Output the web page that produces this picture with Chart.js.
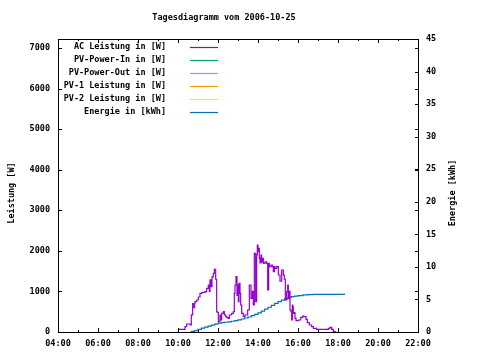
<!DOCTYPE html>
<html><head><meta charset="utf-8">
<script src="https://cdn.jsdelivr.net/npm/chart.js@4/dist/chart.umd.min.js"></script>
<style>html,body{margin:0;padding:0;background:#fff}canvas{display:block}</style>
</head><body>
<canvas id="c" width="480" height="360"></canvas>
<script>
const TITLE = 'Tagesdiagramm vom 2006-10-25';
const Y1_TITLE = 'Leistung [W]';
const Y2_TITLE = 'Energie [kWh]';
const SERIES_LABELS = ['AC Leistung in [W]', 'PV-Power-In in [W]', 'PV-Power-Out in [W]', 'PV-1 Leistung in [W]', 'PV-2 Leistung in [W]', 'Energie in [kWh]'];
const SERIES_COLORS = ['#9400d3', '#009e73', '#56b4e9', '#e69f00', '#f0e442', '#0072b2'];
const X_TICK_HOURS = [4,5,6,7,8,9,10,11,12,13,14,15,16,17,18,19,20,21,22];
const Y1_TICKS = [0,1000,2000,3000,4000,5000,6000,7000];
const Y2_TICKS = [0,5,10,15,20,25,30,35,40,45];
const Y1_MAX = 7220;
const Y2_MAX = 45;

const AC_TIMES = ['10:00','10:21','10:26','10:30','10:36','10:40','10:44','10:46','10:50','10:51','10:56','11:01','11:06','11:11','11:16','11:21','11:26','11:31','11:34','11:36','11:39','11:42','11:46','11:49','11:53','11:56','11:58','12:01','12:06','12:09','12:11','12:16','12:19','12:23','12:26','12:31','12:34','12:41','12:46','12:49','12:51','12:54','12:57','12:59','13:01','13:03','13:06','13:08','13:11','13:16','13:21','13:29','13:34','13:39','13:43','13:46','13:49','13:53','13:56','13:58','14:00','14:02','14:04','14:06','14:09','14:11','14:14','14:16','14:21','14:26','14:29','14:32','14:34','14:39','14:43','14:46','14:49','14:51','14:56','15:01','15:06','15:11','15:16','15:19','15:22','15:26','15:29','15:31','15:33','15:36','15:39','15:41','15:43','15:44','15:46','15:48','15:51','15:54','16:01','16:08','16:14','16:18','16:24','16:28','16:34','16:41','16:46','16:56','17:06','17:31','17:36','17:41','17:46','17:51','17:56'];
const AC_WATTS = [65,65,130,197,197,172,420,700,600,707,747,789,862,954,970,978,993,1077,1158,1000,1282,1120,1360,1447,1545,1300,500,480,254,419,296,461,500,420,378,352,337,419,461,500,954,1158,1363,900,1158,747,1200,950,665,461,378,419,542,1158,830,1000,665,1940,747,1900,2144,1980,2063,1816,1700,1898,1730,1816,1693,1730,1693,1035,1693,1610,1650,1610,1486,1610,1570,1610,1405,1250,1528,1405,1300,789,993,1158,830,1000,542,500,296,665,624,461,480,337,279,296,362,394,378,313,230,172,131,90,66,66,90,115,66,8,0];

const ENERGY_TIMES = ['10:40','10:50','11:00','11:10','11:20','11:30','11:40','11:50','12:00','12:10','12:20','12:30','12:40','12:50','13:00','13:10','13:20','13:30','13:40','13:50','14:00','14:10','14:20','14:30','14:40','14:50','15:00','15:10','15:20','15:30','15:40','15:50','16:00','16:15','16:30','16:45','17:00','18:21'];
const ENERGY_KWH = [0,0.1,0.2,0.4,0.6,0.75,0.9,1.05,1.2,1.35,1.45,1.5,1.55,1.65,1.75,1.85,2.0,2.15,2.3,2.5,2.7,2.95,3.2,3.5,3.8,4.1,4.4,4.65,4.9,5.1,5.3,5.42,5.5,5.6,5.7,5.75,5.79,5.79];

const PV_IN_W = [], PV_OUT_W = [], PV1_W = [], PV2_W = [];

const FONT_FAMILY = '"DejaVu Sans Mono", monospace';
const FONT_SIZE = 8.5;
const FONT_WEIGHT = 'bold';

function toHours(s) { const [h, m] = s.split(':').map(Number); return h + m / 60; }
function pts(times, vals) { return times.map((t, i) => ({ x: toHours(t), y: vals[i] })); }
function pad2(n) { return (n < 10 ? '0' : '') + n; }

const frame = {
  id: 'frame',
  afterDraw(chart) {
    const ctx = chart.ctx, a = chart.chartArea;
    const xs = chart.scales.x, y1 = chart.scales.y, y2 = chart.scales.y2;
    ctx.save();
    ctx.strokeStyle = '#000';
    ctx.lineWidth = 1;
    ctx.beginPath();
    ctx.rect(a.left + 0.5, a.top + 0.5, a.right - a.left, a.bottom - a.top);
    ctx.stroke();
    ctx.beginPath();
    xs.ticks.forEach(t => {
      const px = Math.round(xs.getPixelForValue(t.value)) + 0.5;
      const len = t.value % 2 === 0 ? 4 : 2;
      ctx.moveTo(px, a.bottom); ctx.lineTo(px, a.bottom - len);
      ctx.moveTo(px, a.top); ctx.lineTo(px, a.top + len);
    });
    y1.ticks.forEach(t => {
      const py = Math.round(y1.getPixelForValue(t.value)) + 0.5;
      ctx.moveTo(a.left, py); ctx.lineTo(a.left + 4, py);
      ctx.moveTo(a.right + 1, py); ctx.lineTo(a.right - 3, py);
    });
    y2.ticks.forEach(t => {
      const py = Math.round(y2.getPixelForValue(t.value)) + 0.5;
      ctx.moveTo(a.right + 1, py); ctx.lineTo(a.right - 3, py);
    });
    ctx.stroke();

    ctx.fillStyle = '#000';
    ctx.font = FONT_WEIGHT + ' ' + FONT_SIZE + 'px ' + FONT_FAMILY;
    ctx.textBaseline = 'middle';
    ctx.textAlign = 'center';
    ctx.fillText(TITLE, 224, 18);

    ctx.save(); ctx.translate(12, 193); ctx.rotate(-Math.PI / 2);
    ctx.fillText(Y1_TITLE, 0, 0); ctx.restore();
    ctx.save(); ctx.translate(453, 193); ctx.rotate(-Math.PI / 2);
    ctx.fillText(Y2_TITLE, 0, 0); ctx.restore();

    ctx.textAlign = 'right';
    chart.data.datasets.forEach((ds, i) => {
      const ly = 47 + i * 13;
      ctx.fillStyle = '#000';
      ctx.fillText(ds.label, 166, ly);
      ctx.strokeStyle = ds.borderColor;
      ctx.lineWidth = 1.2;
      ctx.beginPath(); ctx.moveTo(190, ly + 0.5); ctx.lineTo(218, ly + 0.5); ctx.stroke();
    });
    ctx.restore();
  }
};

const datasetValues = [pts(AC_TIMES, AC_WATTS), PV_IN_W, PV_OUT_W, PV1_W, PV2_W, pts(ENERGY_TIMES, ENERGY_KWH)];
const datasets = SERIES_LABELS.map((label, i) => ({
  label,
  data: datasetValues[i],
  borderColor: SERIES_COLORS[i],
  backgroundColor: SERIES_COLORS[i],
  borderWidth: 1.2,
  pointRadius: 0,
  stepped: 'after',
  fill: false,
  yAxisID: i === 5 ? 'y2' : 'y'
}));

const tickFont = { family: FONT_FAMILY, size: FONT_SIZE, weight: FONT_WEIGHT };
new Chart(document.getElementById('c'), {
  type: 'line',
  data: { datasets },
  plugins: [frame],
  options: {
    responsive: false,
    animation: false,
    devicePixelRatio: 1,
    layout: { padding: { top: 39, left: 0, right: 0, bottom: 0 } },
    plugins: { legend: { display: false }, title: { display: false }, tooltip: { enabled: false } },
    scales: {
      x: {
        type: 'linear', min: X_TICK_HOURS[0], max: X_TICK_HOURS[X_TICK_HOURS.length - 1],
        grid: { display: false, drawTicks: false }, border: { display: false },
        afterFit(s) { s.height = 28; },
        afterBuildTicks(s) { s.ticks = X_TICK_HOURS.map(v => ({ value: v })); },
        ticks: { autoSkip: false, maxRotation: 0, padding: 7, color: '#000', font: tickFont,
          callback: v => (v % 2 === 0 ? pad2(v) + ':00' : '') }
      },
      y: {
        position: 'left', min: 0, max: Y1_MAX,
        grid: { display: false, drawTicks: false }, border: { display: false },
        afterFit(s) { s.width = 58; },
        afterBuildTicks(s) { s.ticks = Y1_TICKS.map(v => ({ value: v })); },
        ticks: { autoSkip: false, padding: 8, color: '#000', font: tickFont, callback: v => String(v) }
      },
      y2: {
        position: 'right', min: 0, max: Y2_MAX,
        grid: { display: false, drawTicks: false }, border: { display: false },
        afterFit(s) { s.width = 62; },
        afterBuildTicks(s) { s.ticks = Y2_TICKS.map(v => ({ value: v })); },
        ticks: { autoSkip: false, padding: 8, color: '#000', font: tickFont, callback: v => String(v) }
      }
    }
  }
});
</script>
</body></html>
